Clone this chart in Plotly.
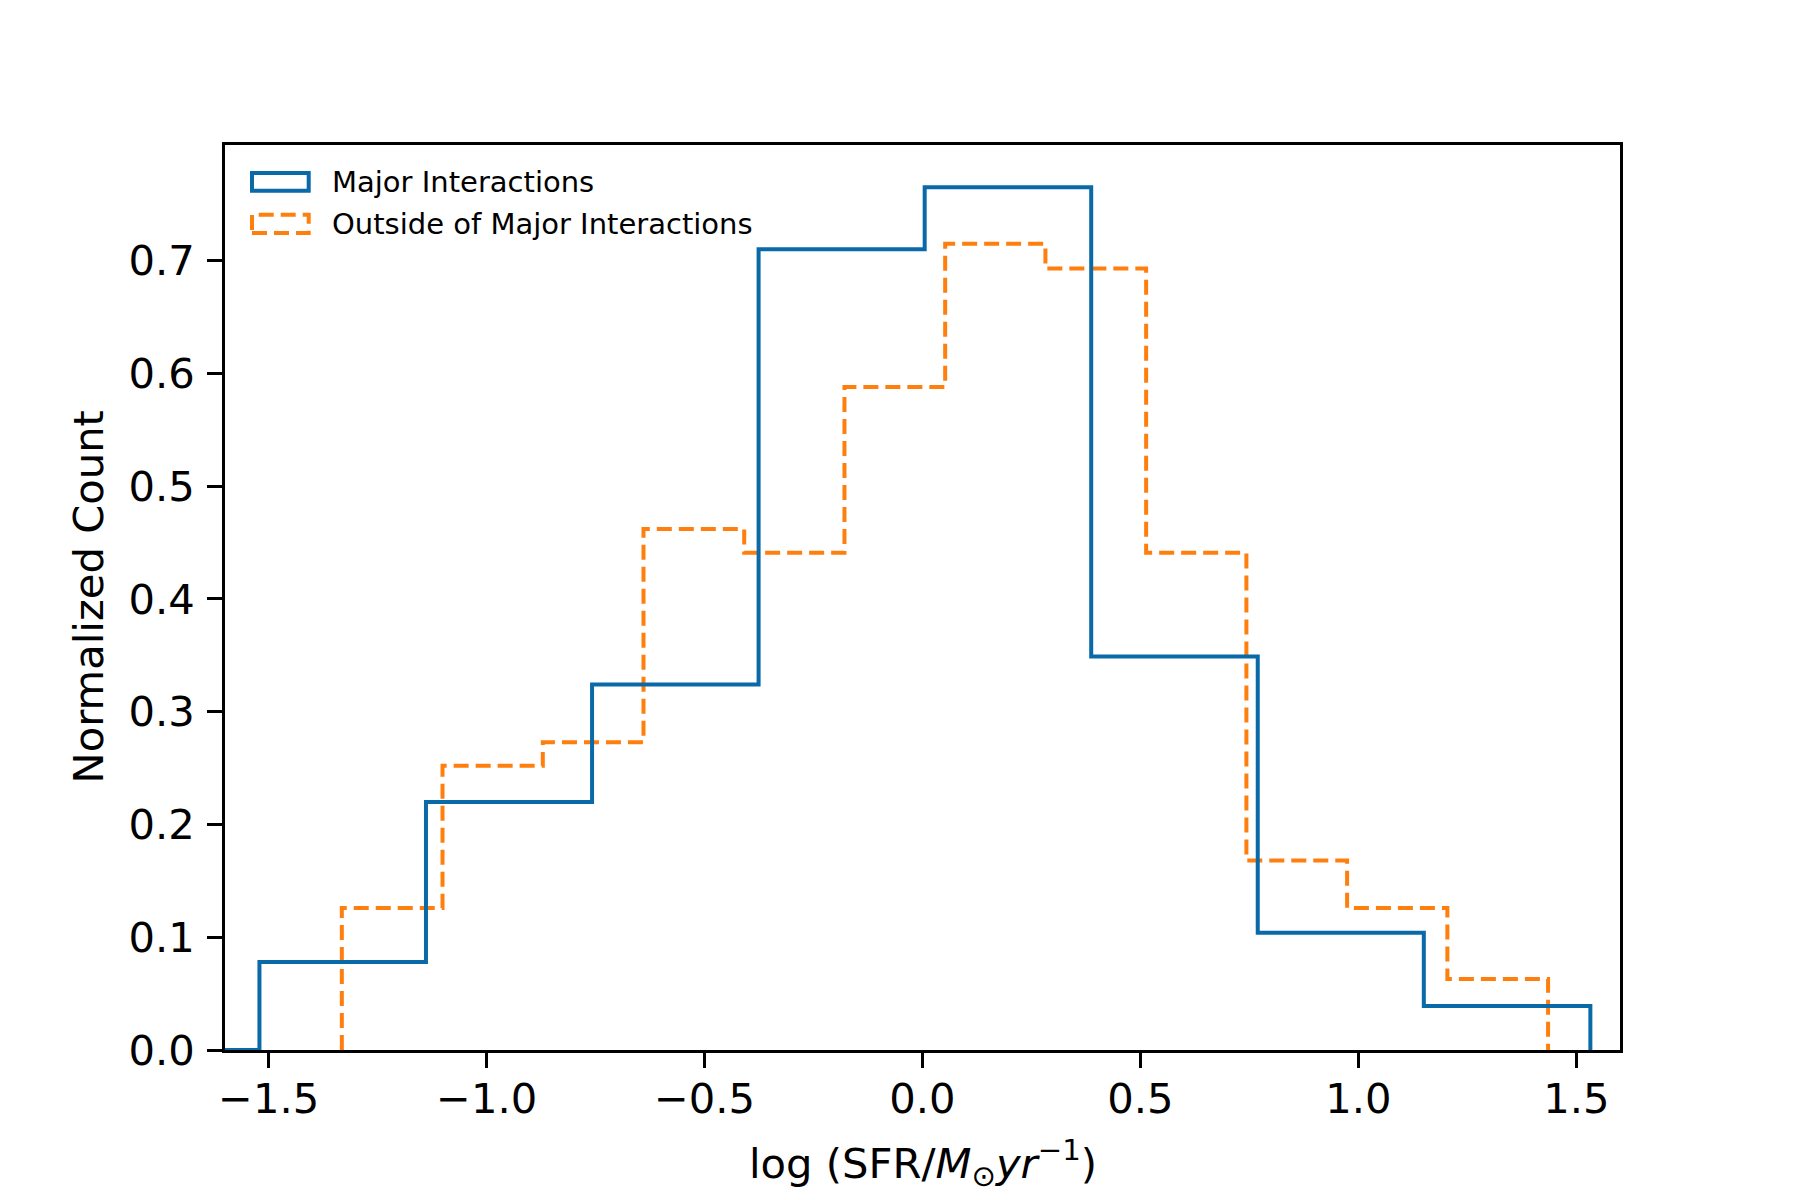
import plotly.graph_objects as go

# ---- data ----
major_edges = [-1.902, -1.521, -1.139, -0.758, -0.376, 0.005, 0.387, 0.769, 1.150, 1.532]
major_heights = [0.0, 0.078, 0.220, 0.324, 0.710, 0.765, 0.349, 0.104, 0.039]

outside_edges = [-1.332, -1.101, -0.871, -0.640, -0.409, -0.179, 0.052, 0.282,
                 0.513, 0.743, 0.974, 1.204, 1.435]
outside_heights = [0.126, 0.252, 0.273, 0.462, 0.441, 0.588, 0.715, 0.693,
                   0.441, 0.168, 0.126, 0.063]

series_names = ["Major Interactions", "Outside of Major Interactions"]
x_ticks = [-1.5, -1.0, -0.5, 0.0, 0.5, 1.0, 1.5]
y_ticks = [0.0, 0.1, 0.2, 0.3, 0.4, 0.5, 0.6, 0.7]

BLUE = "#0a6aa8"
ORANGE = "#ff7f0e"


def step_xy(edges, heights):
    xs = [edges[0]] + list(edges)
    ys = [0] + list(heights) + [0]
    return xs, ys


fig = go.Figure()

ox, oy = step_xy(outside_edges, outside_heights)
fig.add_trace(go.Scatter(x=ox, y=oy, mode="lines", line_shape="hv",
                         line=dict(color=ORANGE, width=4, dash="15px,7px"),
                         name=series_names[1], showlegend=False))
mx, my = step_xy(major_edges, major_heights)
fig.add_trace(go.Scatter(x=mx, y=my, mode="lines", line_shape="hv",
                         line=dict(color=BLUE, width=4),
                         name=series_names[0], showlegend=False))

FONT = "DejaVu Sans"
OFF = 8  # default page body margin
W, H = 1792, 1192
PL, PT, PW, PH = 225, 145, 1395, 905   # plot area in screen pixels
L, T = PL - OFF, PT - OFF
R = W - L - PW
B = H - T - PH


def px(x):
    return (x - PL) / PW


def py(y):
    return (PT + PH - y) / PH


axis_common = dict(showline=True, linecolor="black", linewidth=3.3, mirror=True,
                   ticks="outside", ticklen=14.6, tickwidth=3.3, tickcolor="black",
                   showgrid=False, zeroline=False,
                   tickfont=dict(family=FONT, size=41.7, color="black"))

fig.update_xaxes(range=[-1.6, 1.6], tickvals=x_ticks, tickformat=".1f",
                 ticklabelstandoff=-5, **axis_common)
fig.update_yaxes(range=[0, 0.8025], tickvals=y_ticks, tickformat=".1f",
                 ticklabelstandoff=4, **axis_common)

# legend (drawn manually to reproduce rectangle patches)
fig.add_shape(type="rect", xref="paper", yref="paper",
              x0=px(252), x1=px(308.7), y0=py(190.7), y1=py(173),
              line=dict(color=BLUE, width=4))
fig.add_shape(type="rect", xref="paper", yref="paper",
              x0=px(252), x1=px(308.7), y0=py(233), y1=py(214.7),
              line=dict(color=ORANGE, width=4, dash="15px,7px"))
fig.add_annotation(x=px(330), y=py(182), xref="paper", yref="paper",
                   text=series_names[0], showarrow=False, xanchor="left",
                   yanchor="middle", font=dict(family=FONT, size=29, color="black"))
fig.add_annotation(x=px(330), y=py(224), xref="paper", yref="paper",
                   text=series_names[1], showarrow=False, xanchor="left",
                   yanchor="middle", font=dict(family=FONT, size=29, color="black"))

# axis titles
fig.add_annotation(x=0.5, y=py(1163), xref="paper", yref="paper",
                   text="log (SFR/<i>M</i><sub>⊙</sub><i>yr</i><sup>−1</sup>)",
                   showarrow=False, xanchor="center", yanchor="middle",
                   font=dict(family=FONT, size=41.7, color="black"))
fig.add_annotation(x=px(88), y=0.5, xref="paper", yref="paper",
                   text="Normalized Count", textangle=-90,
                   showarrow=False, xanchor="center", yanchor="middle",
                   font=dict(family=FONT, size=41.7, color="black"))

fig.update_layout(width=W, height=H, margin=dict(l=L, r=R, t=T, b=B),
                  paper_bgcolor="white", plot_bgcolor="white",
                  font=dict(family=FONT, color="black"), showlegend=False)

fig.write_html("out.html")
